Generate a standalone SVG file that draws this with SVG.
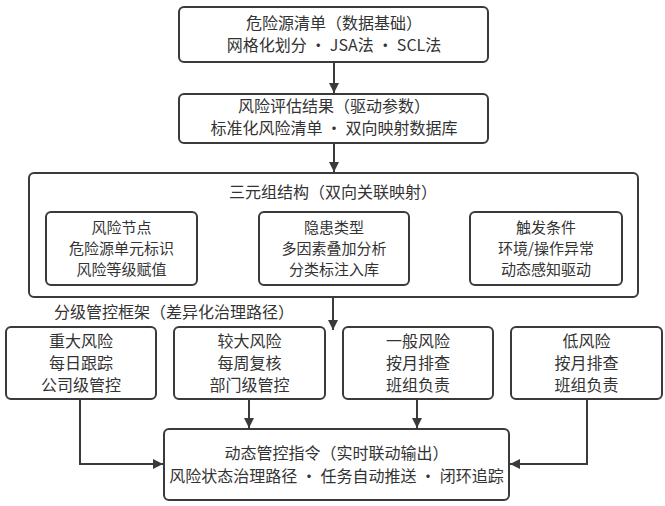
<svg xmlns="http://www.w3.org/2000/svg" width="665" height="506" viewBox="0 0 665 506">
<style>
.box{fill:#fff;stroke:#3a3a3a;stroke-width:2}
.t{font-family:"Noto Sans CJK SC","Noto Sans",sans-serif;font-size:16px;fill:#333;text-anchor:middle}
.s{font-size:15px}
.c{fill:none;stroke:#3a3a3a;stroke-width:2}
</style>
<defs>
<marker id="ah" viewBox="0 0 10 10" refX="10" refY="5" markerWidth="10" markerHeight="10" markerUnits="userSpaceOnUse" orient="auto">
<path d="M0,0 L10,5 L0,10 Z" fill="#3a3a3a"/>
</marker>
</defs>
<rect width="665" height="506" fill="#fff"/>
<g id="connectors">
<line class="c" x1="334" y1="62" x2="334" y2="93" marker-end="url(#ah)"/>
<line class="c" x1="334" y1="143" x2="334" y2="172" marker-end="url(#ah)"/>
<line class="c" x1="197" y1="248" x2="258" y2="248" marker-end="url(#ah)"/>
<line class="c" x1="409" y1="248" x2="469" y2="248" marker-end="url(#ah)"/>
<line class="c" x1="333" y1="297" x2="333" y2="330" marker-end="url(#ah)"/>
<line class="c" x1="249" y1="399" x2="249" y2="428" marker-end="url(#ah)"/>
<line class="c" x1="417" y1="399" x2="417" y2="428" marker-end="url(#ah)"/>
<polyline class="c" points="80,399 80,464 163,464" marker-end="url(#ah)"/>
<polyline class="c" points="587,399 587,464 510,464" marker-end="url(#ah)"/>
</g>
<g id="source">
<rect class="box" x="179" y="7" width="309" height="55" rx="5"/>
<text class="t" x="334" y="29">危险源清单（数据基础）</text>
<text class="t" x="334" y="51">网格化划分 • JSA法 • SCL法</text>
</g>
<g id="assessment">
<rect class="box" x="179" y="94" width="309" height="49" rx="5"/>
<text class="t" x="334" y="112">风险评估结果（驱动参数）</text>
<text class="t" x="334" y="134">标准化风险清单 • 双向映射数据库</text>
</g>
<g id="triple">
<rect class="box" x="29" y="173" width="609" height="124" rx="5"/>
<text class="t" x="333" y="198">三元组结构（双向关联映射）</text>
</g>
<g id="node-risk">
<rect class="box" x="46" y="212" width="151" height="73" rx="5"/>
<text class="t s" x="121.5" y="233">风险节点</text>
<text class="t s" x="121.5" y="254">危险源单元标识</text>
<text class="t s" x="121.5" y="275">风险等级赋值</text>
</g>
<g id="node-hazard">
<rect class="box" x="259" y="212" width="150" height="73" rx="5"/>
<text class="t s" x="334" y="233">隐患类型</text>
<text class="t s" x="334" y="254">多因素叠加分析</text>
<text class="t s" x="334" y="275">分类标注入库</text>
</g>
<g id="node-trigger">
<rect class="box" x="470" y="212" width="152" height="73" rx="5"/>
<text class="t s" x="546" y="233">触发条件</text>
<text class="t s" x="546" y="254">环境/操作异常</text>
<text class="t s" x="546" y="275">动态感知驱动</text>
</g>
<g id="framework-label">
<text class="t" x="174" y="318">分级管控框架（差异化治理路径）</text>
</g>
<g id="level-major">
<rect class="box" x="6" y="327" width="150" height="72" rx="5"/>
<text class="t" x="81" y="347">重大风险</text>
<text class="t" x="81" y="369">每日跟踪</text>
<text class="t" x="81" y="391">公司级管控</text>
</g>
<g id="level-large">
<rect class="box" x="174" y="327" width="151" height="72" rx="5"/>
<text class="t" x="249.5" y="347">较大风险</text>
<text class="t" x="249.5" y="369">每周复核</text>
<text class="t" x="249.5" y="391">部门级管控</text>
</g>
<g id="level-general">
<rect class="box" x="343" y="327" width="150" height="72" rx="5"/>
<text class="t" x="418" y="347">一般风险</text>
<text class="t" x="418" y="369">按月排查</text>
<text class="t" x="418" y="391">班组负责</text>
</g>
<g id="level-low">
<rect class="box" x="511" y="327" width="151" height="72" rx="5"/>
<text class="t" x="586.5" y="347">低风险</text>
<text class="t" x="586.5" y="369">按月排查</text>
<text class="t" x="586.5" y="391">班组负责</text>
</g>
<g id="output">
<rect class="box" x="164" y="429" width="345" height="71" rx="5"/>
<text class="t" x="336.5" y="459">动态管控指令（实时联动输出）</text>
<text class="t" x="336.5" y="482">风险状态治理路径 • 任务自动推送 • 闭环追踪</text>
</g>
</svg>
